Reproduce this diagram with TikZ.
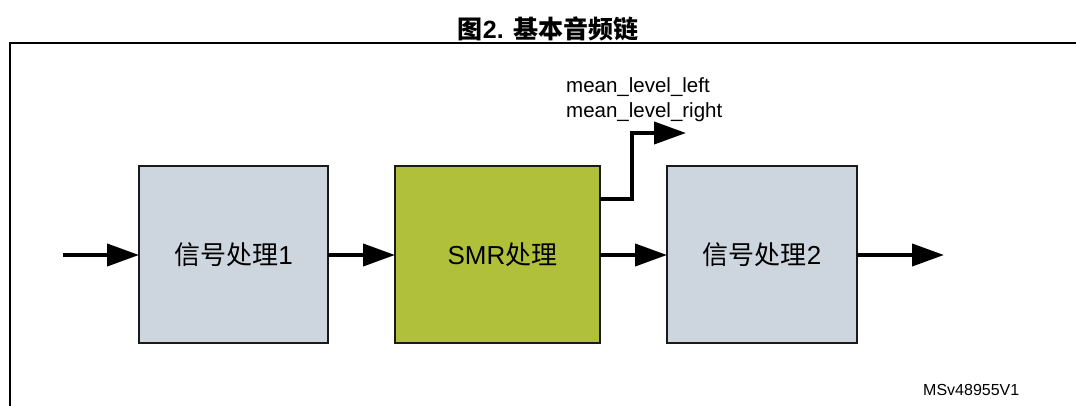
\documentclass[tikz,border=0pt]{standalone}
\usepackage{fontspec}
\setmainfont{Liberation Sans}
\newfontfamily\cjk{Noto Sans CJK SC}
\usetikzlibrary{arrows.meta}
\definecolor{boxgray}{RGB}{205,213,222}
\definecolor{smrgreen}{RGB}{176,192,59}
\definecolor{edge}{RGB}{26,26,26}
\tikzset{
  blk/.style={draw=edge, line width=2pt, inner sep=0pt, outer sep=0pt, minimum height=177pt, font=\fontsize{26}{30}\selectfont},
  flow/.style={line width=4pt, -{Triangle[length=32pt,width=22pt]}},
  lbl/.style={inner sep=0pt, anchor=base west, font=\fontsize{20.5}{24}\selectfont},
}
\begin{document}
\begin{tikzpicture}[x=1pt,y=-1pt]
\useasboundingbox (0,0) rectangle (1076,405);
% frame
\draw[line width=2.5pt] (10,410) -- (10,43) -- (1080,43);
% title
\node[inner sep=0pt, anchor=base] (title) at (548,38) {\fontsize{25}{28}\selectfont\bfseries{\cjk 图}2. {\cjk 基本音频链}};
% blocks
\node[blk, fill=boxgray, minimum width=189pt] (p1) at (233.5,254.5) {{\cjk 信号处理}1};
\node[blk, fill=smrgreen, minimum width=205pt, text width=205pt, align=center] (smr) at (497.5,254.5) {\hspace*{10pt}SMR{\cjk 处理}};
\node[blk, fill=boxgray, minimum width=190pt] (p2) at (762,254.5) {{\cjk 信号处理}2};
% connectors
\coordinate (in) at (63,255);
\coordinate (out) at (944,255);
\coordinate (meter) at (686,133);
\draw[flow] (in) -- (p1.west |- in);
\draw[flow] (p1.east |- in) -- (smr.west |- in);
\draw[flow] (smr.east |- in) -- (p2.west |- in);
\draw[flow] (p2.east |- in) -- (out);
\draw[line width=4pt, -{Triangle[length=32pt,width=22pt]}, line join=miter]
  ([yshift=55.5pt]smr.east) -| (632,160) |- (meter);
% labels
\node[lbl] (ml) at (566,92) {mean\_level\_left};
\node[lbl] (mr) at (566,117) {mean\_level\_right};
\node[inner sep=0pt, anchor=base west, font=\fontsize{16}{19}\selectfont] (id) at (923,395) {MSv48955V1};
\end{tikzpicture}
\end{document}
